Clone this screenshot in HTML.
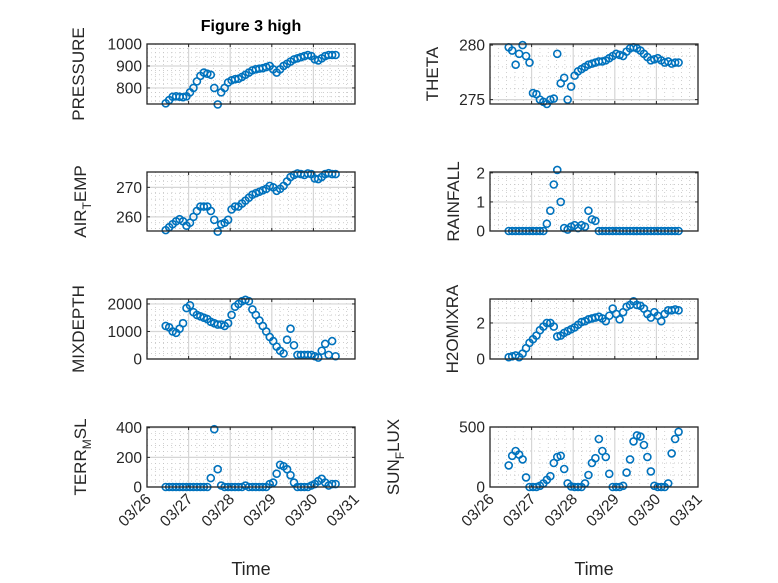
<!DOCTYPE html>
<html><head><meta charset="utf-8"><style>
html,body{margin:0;padding:0;background:#fff;}
svg{display:block;font-family:"Liberation Sans",sans-serif;}
</style></head><body>
<svg id="fig" width="778" height="583" viewBox="0 0 778 583">
<rect width="778" height="583" fill="#fff"/>
<text x="251" y="31" font-size="16" font-weight="bold" text-anchor="middle" fill="#000">Figure 3 high</text>
</svg>
<script>
const dayTicks = ["03/26","03/27","03/28","03/29","03/30","03/31"];
const tStart = 0.45;
const tStep = 1/12;
const pressure = [730,745,760,762,760,758,762,780,800,830,855,870,865,860,800,725,780,800,825,835,840,842,850,860,870,880,885,888,890,895,900,885,870,885,900,910,920,930,935,940,945,950,945,930,925,935,945,950,950,950];
const theta = [279.8,279.5,278.2,279.2,280,279,278.4,275.6,275.5,275,274.8,274.6,275,275.1,279.2,276.5,277,275,276.2,277.2,277.6,277.8,278,278.2,278.3,278.4,278.5,278.5,278.6,278.8,279,279.2,279.1,279,279.4,279.7,279.8,279.7,279.5,279.2,278.9,278.6,278.7,278.8,278.6,278.4,278.5,278.3,278.4,278.4];
const airTemp = [255.5,256.5,257.5,258.5,259.2,258.5,257,258,260,262,263.5,263.5,263.5,262,259,255,257.5,258,259,262.5,263.5,263.5,264.5,265.5,266.5,267.5,268,268.5,269,269.5,270.5,270,268.8,269.5,270.5,272,273.5,274.2,274.7,274.5,274.2,274.7,274.5,273,272.8,273.5,274.5,274.8,274.5,274.5];
const rainfall = [0,0,0,0,0,0,0,0,0,0,0,0.25,0.7,1.6,2.1,1.0,0.1,0.05,0.15,0.2,0.1,0.2,0.15,0.7,0.4,0.35,0,0,0,0,0,0,0,0,0,0,0,0,0,0,0,0,0,0,0,0,0,0,0,0];
const mixDepth = [1200,1150,1000,950,1100,1300,1850,1950,1700,1600,1550,1500,1450,1350,1300,1250,1250,1200,1300,1600,1900,2000,2100,2150,2100,1800,1600,1400,1200,1000,800,650,450,300,200,700,1100,500,150,150,150,150,150,100,50,300,550,150,650,100];
const h2oMix = [0.1,0.15,0.2,0.1,0.3,0.6,0.9,1.1,1.3,1.6,1.8,2.0,2.0,1.8,1.25,1.3,1.45,1.55,1.65,1.75,1.9,2.05,2.1,2.2,2.25,2.3,2.35,2.25,2.1,2.4,2.8,2.5,2.2,2.6,2.9,3.0,3.2,3.0,2.95,2.8,2.5,2.3,2.6,2.4,2.1,2.5,2.7,2.7,2.75,2.7];
const terrMsl = [0,0,0,0,0,0,0,0,0,0,0,0,0,60,390,120,10,0,0,0,0,0,0,10,0,0,0,0,0,0,20,30,90,150,140,120,80,30,0,0,0,0,10,20,40,55,30,10,20,20];
const sunFlux = [180,260,300,270,230,80,0,0,0,10,30,60,90,200,250,260,150,30,5,0,0,0,30,100,200,240,400,300,250,110,0,0,0,10,120,230,380,430,420,350,250,130,10,0,0,0,30,280,400,460];
const pressureTicks = [800,900,1000];
const thetaTicks = [275,280];
const airTicks = [260,270];
const rainTicks = [0,1,2];
const mixTicks = [0,1000,2000];
const h2oTicks = [0,2];
const terrTicks = [0,200,400];
const sunTicks = [0,500];

const svg = document.getElementById('fig');
const NS = 'http://www.w3.org/2000/svg';
function mk(tag, attrs, parent){const e=document.createElementNS(NS,tag);for(const k in attrs)e.setAttribute(k,attrs[k]);(parent||svg).appendChild(e);return e;}

const panels = [
 {key:'pressure',data:pressure,ticks:pressureTicks,ymin:727,ymax:1000,x0:147,x1:355,y0:44,y1:104,label:'PRESSURE',lx:78,bottom:false},
 {key:'theta',data:theta,ticks:thetaTicks,ymin:274.6,ymax:280.1,x0:490,x1:698,y0:44,y1:104,label:'THETA',lx:432,bottom:false},
 {key:'air-temp',data:airTemp,ticks:airTicks,ymin:255.2,ymax:275.2,x0:147,x1:355,y0:172,y1:231,label:'AIR',sub:'T',rest:'EMP',lx:80,bottom:false},
 {key:'rainfall',data:rainfall,ticks:rainTicks,ymin:0,ymax:2.03,x0:490,x1:698,y0:172,y1:231,label:'RAINFALL',lx:453,bottom:false},
 {key:'mixdepth',data:mixDepth,ticks:mixTicks,ymin:0,ymax:2180,x0:147,x1:355,y0:299,y1:359,label:'MIXDEPTH',lx:78,bottom:false},
 {key:'h2omixra',data:h2oMix,ticks:h2oTicks,ymin:0,ymax:3.33,x0:490,x1:698,y0:299,y1:359,label:'H2OMIXRA',lx:452,bottom:false},
 {key:'terr-msl',data:terrMsl,ticks:terrTicks,ymin:0,ymax:405,x0:147,x1:355,y0:427,y1:487,label:'TERR',sub:'M',rest:'SL',lx:80,bottom:true},
 {key:'sun-flux',data:sunFlux,ticks:sunTicks,ymin:0,ymax:500,x0:490,x1:698,y0:427,y1:487,label:'SUN',sub:'F',rest:'LUX',lx:393,bottom:true}
];

panels.forEach(p=>{
  const g = mk('g',{});
  
  
  const xs = t => p.x0 + (t/5)*(p.x1-p.x0);
  const ys = v => p.y1 - (v-p.ymin)/(p.ymax-p.ymin)*(p.y1-p.y0);
  mk('rect',{x:p.x0,y:p.y0,width:p.x1-p.x0,height:p.y1-p.y0,fill:'#fff'},g);
  for(let k=0;k<25;k++){ if(k%5===0) continue; const x=xs(k/5);
    mk('line',{x1:x,x2:x,y1:p.y0,y2:p.y1,stroke:'#bdbdbd','stroke-width':0.7,'stroke-dasharray':'1,3'},g);}
  const step = p.ticks.length>1 ? p.ticks[1]-p.ticks[0] : 1;
  const mstep = step/5;
  for(let v=Math.ceil(p.ymin/mstep)*mstep; v<=p.ymax; v+=mstep){
    if(Math.abs(v/step-Math.round(v/step))<1e-6) continue;
    const y=ys(v); mk('line',{x1:p.x0,x2:p.x1,y1:y,y2:y,stroke:'#bdbdbd','stroke-width':0.7,'stroke-dasharray':'1,3'},g);}
  for(let d=1;d<5;d++){const x=xs(d); mk('line',{x1:x,x2:x,y1:p.y0,y2:p.y1,stroke:'#d6d6d6','stroke-width':1.2},g);}
  p.ticks.forEach(v=>{const y=ys(v); mk('line',{x1:p.x0,x2:p.x1,y1:y,y2:y,stroke:'#d6d6d6','stroke-width':1.2},g);
    mk('line',{x1:p.x0,x2:p.x0+3,y1:y,y2:y,stroke:'#262626','stroke-width':1},g);
    mk('line',{x1:p.x1,x2:p.x1-3,y1:y,y2:y,stroke:'#262626','stroke-width':1},g);
    const tl = mk('text',{x:p.x0-5,y:y+5.5,'font-size':15.5,'text-anchor':'end',fill:'#262626'},g);
    tl.textContent = String(v);
    
    
  });
  for(let d=0;d<=5;d++){const x=xs(d);
    mk('line',{x1:x,x2:x,y1:p.y1,y2:p.y1-3,stroke:'#262626','stroke-width':1},g);
    mk('line',{x1:x,x2:x,y1:p.y0,y2:p.y0+3,stroke:'#262626','stroke-width':1},g);
    if(p.bottom){
      const ax=x+5, ay=p.y1+13;
      const tl = mk('text',{x:ax,y:ay,'font-size':15.5,'text-anchor':'end',fill:'#262626',transform:`rotate(-45 ${ax} ${ay})`},g);
      tl.textContent = dayTicks[d];
      
      
    }
  }
  p.data.forEach((v,i)=>{
    const c = mk('circle',{cx:xs(tStart+i*tStep),cy:ys(v),r:3.5,fill:'none',stroke:'#0072BD','stroke-width':1.6},g);
    
    
  });
  mk('rect',{x:p.x0,y:p.y0,width:p.x1-p.x0,height:p.y1-p.y0,fill:'none',stroke:'#262626','stroke-width':1.3},g);
  const cy=(p.y0+p.y1)/2;
  const lab = mk('text',{x:p.lx,y:cy,'font-size':17,'text-anchor':'middle',fill:'#262626',transform:`rotate(-90 ${p.lx} ${cy})`,dy:'6'},g);
  
  
  if(p.sub){
    const a=mk('tspan',{},lab); a.textContent=p.label;
    const b=mk('tspan',{'font-size':12,dy:'5'},lab); b.textContent=p.sub;
    const c=mk('tspan',{dy:'-5'},lab); c.textContent=p.rest;
  } else lab.textContent=p.label;
  if(p.bottom){
    const xl = mk('text',{x:(p.x0+p.x1)/2,y:575,'font-size':18,'text-anchor':'middle',fill:'#262626'},g);
    xl.textContent='Time';
    
    
  }
});
</script>
</body></html>
